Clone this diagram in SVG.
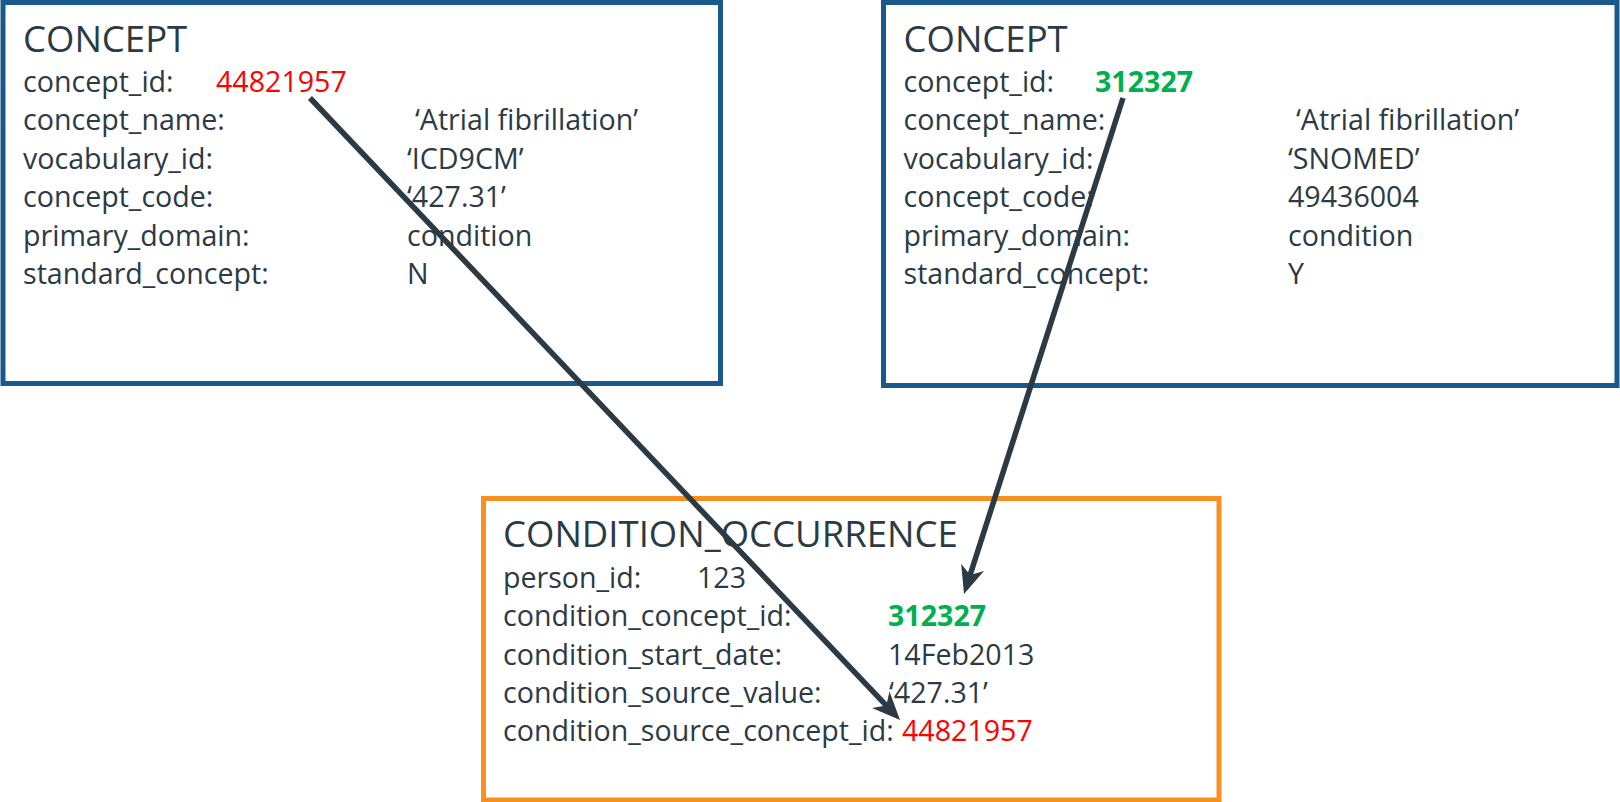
<svg xmlns="http://www.w3.org/2000/svg" width="1620" height="802" viewBox="0 0 1620 802">
<style>
  text { font-family: "Open Sans", "Noto Sans", "Liberation Sans", sans-serif; fill: #2B3A44; }
  .title { font-size: 36.5px; }
  .row { font-size: 28.6px; }
  .red { fill: #FF0000; }
  .green { fill: #00B050; font-weight: bold; }
  .blue-box { fill: #FFFFFF; stroke: #1A5A8A; stroke-width: 5; }
  .orange-box { fill: #FFFFFF; stroke: #F7901E; stroke-width: 5; }
  .conn { stroke: #2B3A44; stroke-width: 5.5; fill: none; marker-end: url(#head); }
</style>
<defs>
  <marker id="head" markerUnits="userSpaceOnUse" markerWidth="30" markerHeight="26" viewBox="0 0 30 26" refX="14" refY="13" orient="auto">
    <path d="M0,1 L28,13 L0,25 L8,13 Z" fill="#2B3A44"/>
  </marker>
</defs>
<rect width="1620" height="802" fill="#FFFFFF"/>

<g id="concept-source">
  <rect class="blue-box" x="3" y="2.5" width="717.5" height="381"/>
  <text class="title" x="23" y="52">CONCEPT</text>
  <text class="row" x="23" y="92">concept_id:</text>
  <text class="row red" x="216" y="92">44821957</text>
  <text class="row" x="23" y="130.4">concept_name:</text>
  <text class="row" x="415" y="130.4">‘Atrial fibrillation’</text>
  <text class="row" x="23" y="168.8">vocabulary_id:</text>
  <text class="row" x="407" y="168.8">‘ICD9CM’</text>
  <text class="row" x="23" y="207.2">concept_code:</text>
  <text class="row" x="407" y="207.2">‘427.31’</text>
  <text class="row" x="23" y="245.6">primary_domain:</text>
  <text class="row" x="407" y="245.6">condition</text>
  <text class="row" x="23" y="284">standard_concept:</text>
  <text class="row" x="407" y="284">N</text>
</g>

<g id="concept-standard">
  <rect class="blue-box" x="883.5" y="2.5" width="733.5" height="383"/>
  <text class="title" x="903.5" y="52">CONCEPT</text>
  <text class="row" x="903.5" y="92">concept_id:</text>
  <text class="row green" x="1095" y="92">312327</text>
  <text class="row" x="903.5" y="130.4">concept_name:</text>
  <text class="row" x="1296" y="130.4">‘Atrial fibrillation’</text>
  <text class="row" x="903.5" y="168.8">vocabulary_id:</text>
  <text class="row" x="1288" y="168.8">‘SNOMED’</text>
  <text class="row" x="903.5" y="207.2">concept_code:</text>
  <text class="row" x="1288" y="207.2">49436004</text>
  <text class="row" x="903.5" y="245.6">primary_domain:</text>
  <text class="row" x="1288" y="245.6">condition</text>
  <text class="row" x="903.5" y="284">standard_concept:</text>
  <text class="row" x="1288" y="284">Y</text>
</g>

<g id="condition-occurrence">
  <rect class="orange-box" x="483.5" y="498.5" width="735.5" height="301.5"/>
  <text class="title" x="503" y="547">CONDITION_OCCURRENCE</text>
  <text class="row" x="503" y="588">person_id:</text>
  <text class="row" x="697" y="588">123</text>
  <text class="row" x="503" y="626.3">condition_concept_id:</text>
  <text class="row green" x="888" y="626.3">312327</text>
  <text class="row" x="503" y="664.6">condition_start_date:</text>
  <text class="row" x="888" y="664.6">14Feb2013</text>
  <text class="row" x="503" y="703">condition_source_value:</text>
  <text class="row" x="889" y="703">‘427.31’</text>
  <text class="row" x="503" y="741.3">condition_source_concept_id:</text>
  <text class="row red" x="902" y="741.3">44821957</text>
</g>

<g id="connectors">
  <line class="conn" x1="310" y1="98" x2="890.4" y2="709.8"/>
  <line class="conn" x1="1123" y1="98" x2="968.3" y2="580.7"/>
</g>
</svg>
